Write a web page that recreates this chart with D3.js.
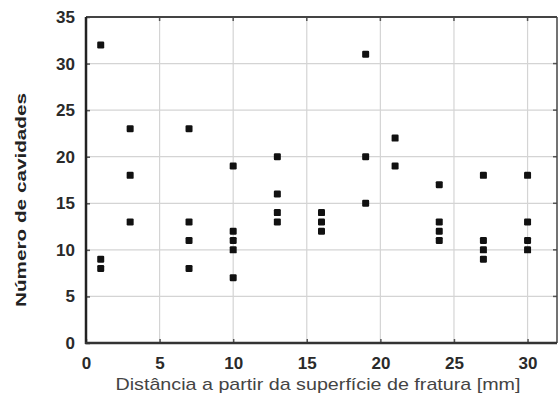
<!DOCTYPE html>
<html><head><meta charset="utf-8">
<script src="https://cdn.jsdelivr.net/npm/d3@7"></script>
<style>body{margin:0;background:#fff}svg{display:block}</style>
</head><body>
<svg id="c" width="558" height="412"></svg>
<script>
const xTicks = [0,5,10,15,20,25,30];
const yTicks = [0,5,10,15,20,25,30,35];
const xVals = [1,1,1, 3,3,3, 7,7,7,7, 10,10,10,10,10, 13,13,13,13, 16,16,16, 19,19,19, 21,21, 24,24,24,24, 27,27,27,27, 30,30,30,30];
const yVals = [32,9,8, 23,18,13, 23,13,11,8, 19,12,11,10,7, 20,16,14,13, 14,13,12, 31,20,15, 22,19, 17,13,12,11, 18,11,10,9, 18,13,11,10];
const xTitle = "Distância a partir da superfície de fratura [mm]";
const yTitle = "Número de cavidades";

const svg = d3.select("#c");
const L=86, R=557, T=17, B=343;
const x = d3.scaleLinear().domain([0,32]).range([L,R]);
const y = d3.scaleLinear().domain([0,35]).range([B,T]);
const FF = "Liberation Sans, Arial, sans-serif";

// grid
svg.append("g").selectAll("line").data(xTicks.filter(d=>d>0)).join("line")
  .attr("x1",d=>x(d)).attr("x2",d=>x(d)).attr("y1",T).attr("y2",B)
  .attr("stroke","#d4d4d4").attr("stroke-width",1.2);
svg.append("g").selectAll("line").data(yTicks.filter(d=>d>0&&d<35)).join("line")
  .attr("x1",L).attr("x2",R).attr("y1",d=>y(d)).attr("y2",d=>y(d))
  .attr("stroke","#d4d4d4").attr("stroke-width",1.2);

// axes
const xa = svg.append("g").attr("transform",`translate(0,${B})`)
  .call(d3.axisBottom(x).tickValues(xTicks).tickSizeInner(-4).tickSizeOuter(0).tickPadding(14));
const ya = svg.append("g").attr("transform",`translate(${L},0)`)
  .call(d3.axisLeft(y).tickValues(yTicks).tickSizeInner(-4).tickSizeOuter(0).tickPadding(11));
[xa,ya].forEach(g=>{
  g.select(".domain").remove();
  g.selectAll("line").attr("stroke","#555").attr("stroke-width",1.5);
  g.selectAll("text").attr("font-family",FF)
    .attr("font-size",17).attr("font-weight","bold").attr("fill","#2a2a2a");
});
// top ticks and right ticks
svg.append("g").selectAll("line").data(xTicks.filter(d=>d>0)).join("line")
  .attr("x1",d=>x(d)).attr("x2",d=>x(d)).attr("y1",T).attr("y2",T+4)
  .attr("stroke","#555").attr("stroke-width",1.5);
svg.append("g").selectAll("line").data(yTicks.filter(d=>d>0&&d<35)).join("line")
  .attr("x1",R-4).attr("x2",R).attr("y1",d=>y(d)).attr("y2",d=>y(d))
  .attr("stroke","#555").attr("stroke-width",1.5);

// frame
svg.append("line").attr("x1",L).attr("x2",R).attr("y1",T).attr("y2",T).attr("stroke","#444").attr("stroke-width",2);
svg.append("line").attr("x1",R).attr("x2",R).attr("y1",T).attr("y2",B).attr("stroke","#444").attr("stroke-width",1.5);
svg.append("line").attr("x1",L).attr("x2",L).attr("y1",T).attr("y2",B+1).attr("stroke","#222").attr("stroke-width",2.5);
svg.append("line").attr("x1",L-1).attr("x2",R).attr("y1",B).attr("y2",B).attr("stroke","#333").attr("stroke-width",2.5);

// points
const pts = xVals.map((v,i)=>({x:v,y:yVals[i]}));
svg.append("g").selectAll("rect").data(pts).join("rect")
  .attr("x",d=>x(d.x)-3.5).attr("y",d=>y(d.y)-3.5).attr("width",7).attr("height",7)
  .attr("rx",1.2).attr("fill","#111");

// titles
svg.append("text").attr("x",318).attr("y",390).attr("text-anchor","middle")
  .attr("font-family",FF).attr("font-size",17)
  .attr("textLength",405).attr("lengthAdjust","spacingAndGlyphs")
  .attr("fill","#444").text(xTitle);
svg.append("text").attr("transform","translate(26,200) rotate(-90)").attr("text-anchor","middle")
  .attr("font-family",FF).attr("font-size",15).attr("font-weight","bold")
  .attr("textLength",214).attr("lengthAdjust","spacingAndGlyphs")
  .attr("fill","#222").text(yTitle);
</script>
</body></html>
